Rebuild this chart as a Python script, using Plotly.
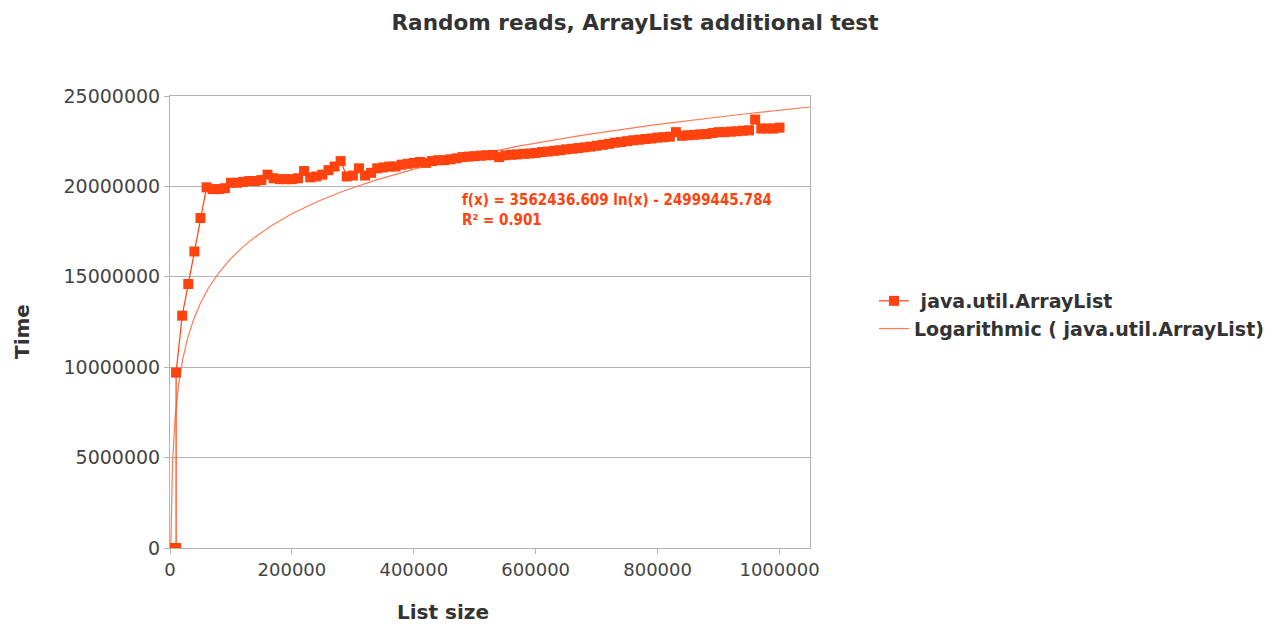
import numpy as np
import plotly.graph_objects as go

list_size = [0, 10000, 10000] + list(range(20000, 1000001, 10000))
time_m = [0, 0, 9.7,
          12.85, 14.6, 16.4, 18.25, 19.95, 19.85, 19.85, 19.9, 20.2,
          20.2, 20.25, 20.3, 20.3, 20.35, 20.65, 20.45, 20.4, 20.4, 20.4,
          20.45, 20.85, 20.5, 20.55, 20.65, 20.9, 21.1, 21.4, 20.55, 20.6,
          21.0, 20.6, 20.75, 21.0, 21.05, 21.1, 21.1, 21.2, 21.25, 21.3,
          21.35, 21.3, 21.4, 21.45, 21.45, 21.5, 21.55, 21.62, 21.65, 21.67,
          21.7, 21.72, 21.74, 21.62, 21.72, 21.75, 21.77, 21.8, 21.82, 21.85,
          21.9, 21.93, 21.97, 22.0, 22.05, 22.08, 22.12, 22.16, 22.2, 22.25,
          22.3, 22.35, 22.42, 22.45, 22.5, 22.55, 22.58, 22.62, 22.65, 22.7,
          22.72, 22.75, 23.0, 22.8, 22.83, 22.85, 22.88, 22.9, 22.95, 23.0,
          23.0, 23.03, 23.05, 23.08, 23.1, 23.7, 23.2, 23.2, 23.2, 23.25]
time_vals = [v * 1e6 for v in time_m]

fit_a = 3562436.609
fit_b = 24999445.784
fit_r2 = 0.901

x_ticks = [0, 200000, 400000, 600000, 800000, 1000000]
y_ticks = [0, 5000000, 10000000, 15000000, 20000000, 25000000]

series_color = "#ff420e"
font_main = "DejaVu Sans"

fit_x = np.geomspace(1000, 1050000, 600)
fit_y = fit_a * np.log(fit_x) - fit_b

fig = go.Figure()
fig.add_trace(go.Scatter(
    x=fit_x, y=fit_y, mode="lines", name="<b>Logarithmic ( java.util.ArrayList)</b>",
    line=dict(color="#ff7a55", width=1.2), hoverinfo="skip"))
fig.add_trace(go.Scatter(
    x=list_size, y=time_vals, mode="lines+markers", name="<b> java.util.ArrayList</b>",
    line=dict(color=series_color, width=1.2),
    marker=dict(symbol="square", size=10, color=series_color)))

L, T, W, H = 162, 88, 640, 452

fig.add_annotation(
    xref="paper", yref="paper", x=(452 - L) / W, y=(540 - 181) / H,
    xanchor="left", yanchor="top", showarrow=False, align="left",
    text=f"<b>f(x) = {fit_a:.3f} ln(x) - {fit_b:.3f}<br>R² = {fit_r2:.3f}</b>",
    font=dict(family="DejaVu Sans Condensed, DejaVu Sans", size=15, color=series_color))

fig.add_annotation(
    xref="paper", yref="paper", x=(435 - L) / W, y=-(604 - 540) / H,
    xanchor="center", yanchor="middle", showarrow=False,
    text="<b>List size</b>", font=dict(size=20, color="#333333", family=font_main))
fig.add_annotation(
    xref="paper", yref="paper", x=-(162 - 14) / W, y=(540 - 324) / H,
    xanchor="center", yanchor="middle", showarrow=False, textangle=-90,
    text="<b>Time</b>", font=dict(size=20, color="#333333", family=font_main))

fig.update_layout(
    width=1281, height=626,
    paper_bgcolor="white", plot_bgcolor="white",
    margin=dict(l=L, r=1281 - L - W, t=T, b=626 - T - H),
    font=dict(family=font_main, color="#444444", size=19),
    title=dict(text="<b>Random reads, ArrayList additional test</b>",
               x=627 / 1281, xanchor="center", y=1 - 14 / 626, yanchor="middle",
               font=dict(size=21.6, color="#333333", family=font_main)),
    showlegend=True,
    legend=dict(x=1.1, xanchor="left", y=(540 - 307) / H, yanchor="middle",
                traceorder="reversed", font=dict(size=19, color="#333333", family=font_main),
                itemwidth=30, tracegroupgap=2),
    xaxis=dict(range=[0, 1050000], tickvals=x_ticks, ticktext=[str(v) for v in x_ticks],
               showgrid=False, zeroline=False, showline=True, mirror=True,
               linecolor="#b3b3b3", linewidth=1, ticks="outside", ticklen=5,
               tickcolor="#b3b3b3", tickfont=dict(size=18, color="#444444")),
    yaxis=dict(range=[0, 25000000], tickvals=y_ticks, ticktext=[str(v) for v in y_ticks],
               showgrid=True, gridcolor="#b3b3b3", gridwidth=1, zeroline=False,
               showline=True, mirror=True, linecolor="#b3b3b3", linewidth=1,
               ticks="outside", ticklen=5, tickcolor="#b3b3b3",
               tickfont=dict(size=19, color="#444444")),
)

fig.write_html("out.html")
